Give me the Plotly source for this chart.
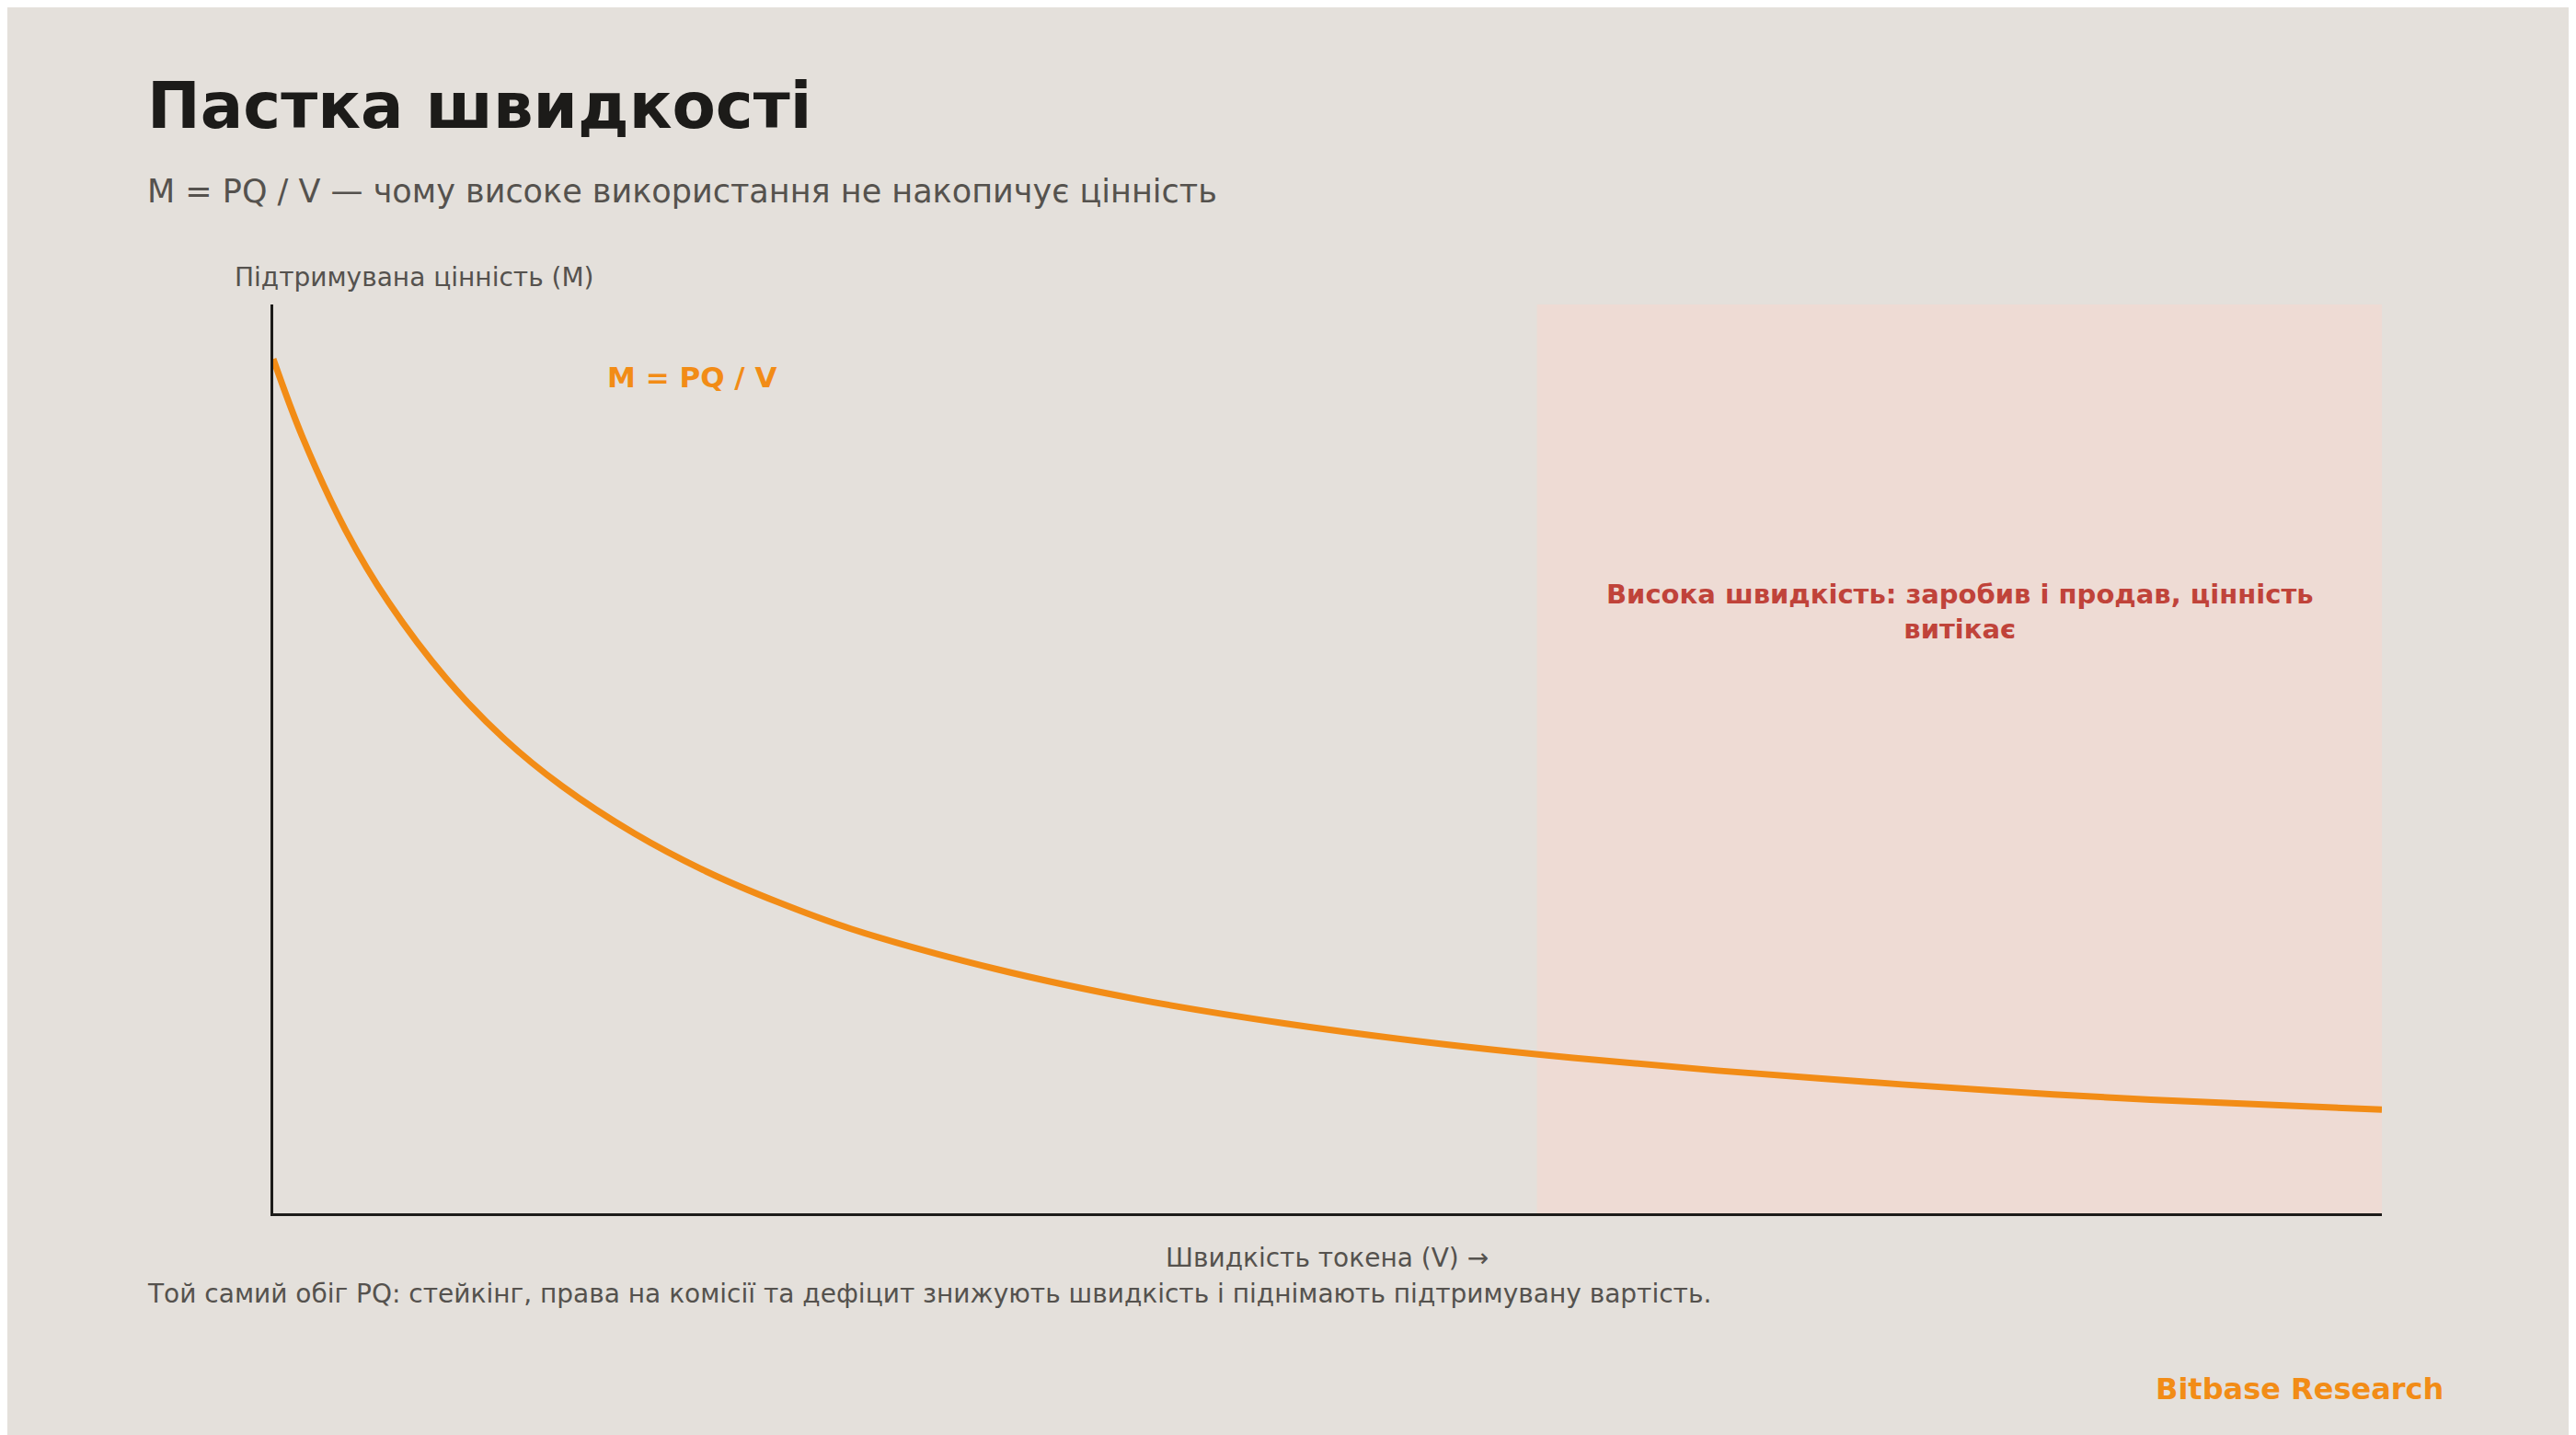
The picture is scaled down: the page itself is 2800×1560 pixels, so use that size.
import plotly.graph_objects as go

# Token velocity (V) and sustained value (M)
velocity = [1, 1.1, 1.25, 1.4, 1.6, 1.8, 2, 2.25, 2.5, 2.75, 3, 3.5, 4, 4.5, 5,
            5.5, 6, 6.5, 7, 7.5, 8.3]
value = [0.94, 0.855, 0.752, 0.672, 0.588, 0.522, 0.47, 0.418, 0.376, 0.342,
         0.313, 0.269, 0.235, 0.209, 0.188, 0.171, 0.157, 0.145, 0.134, 0.125, 0.114]
high_zone = [5.375, 8.3]

bg = "#E4E0DB"
orange = "#F28C16"
red = "#C0433A"
grey = "#55524E"
font = "DejaVu Sans"

W, H = 2800, 1560
ML, MR, MT, MB = 289, 219, 323, 249
pw, ph = W - ML - MR, H - MT - MB

fig = go.Figure()
fig.add_vrect(x0=high_zone[0], x1=high_zone[1], fillcolor="#EEDBD4",
              line_width=0, layer="below")
fig.add_trace(go.Scatter(x=velocity, y=value, mode="lines",
                         line=dict(color=orange, width=7, shape="spline"),
                         hoverinfo="skip"))

fig.add_annotation(x=2.45, y=0.92, text="<b>M = PQ / V</b>", showarrow=False,
                   font=dict(color=orange, size=31, family=font))
fig.add_annotation(x=6.84, y=0.662,
                   text="<b>Висока швидкість: заробив і продав, цінність<br>витікає</b>",
                   showarrow=False, font=dict(color=red, size=29, family=font))

# texts placed in figure pixels (x from left, y from top)
ann = [
    (150, 107, "<b>Пастка швидкості</b>", 69, "#1C1B19", "left"),
    (150, 200, "M = PQ / V — чому високе використання не накопичує цінність", 35, grey, "left"),
    (245, 294, "Підтримувана цінність (M)", 28, grey, "left"),
    (1434, 1359, "Швидкість токена (V) →", 28, grey, "center"),
    (150, 1398, "Той самий обіг PQ: стейкінг, права на комісії та дефіцит знижують швидкість і піднімають підтримувану вартість.", 28, grey, "left"),
    (2650, 1502, "<b>Bitbase Research</b>", 32, orange, "right"),
]
for px_, py_, t, s, c, a in ann:
    fig.add_annotation(xref="paper", yref="paper",
                       x=(px_ - ML) / pw, y=(H - py_ - MB) / ph,
                       text=t, showarrow=False, xanchor=a, yanchor="middle",
                       font=dict(size=s, color=c, family=font))

fig.update_layout(
    width=W, height=H, paper_bgcolor=bg, plot_bgcolor=bg,
    showlegend=False, margin=dict(l=ML, r=MR, t=MT, b=MB),
    xaxis=dict(range=[1, 8.3], showgrid=False, zeroline=False, showticklabels=False,
               showline=True, linecolor="#1C1B19", linewidth=3, ticks=""),
    yaxis=dict(range=[0, 1.0], showgrid=False, zeroline=False, showticklabels=False,
               showline=True, linecolor="#1C1B19", linewidth=3, ticks=""),
)
fig.write_html("out.html")
